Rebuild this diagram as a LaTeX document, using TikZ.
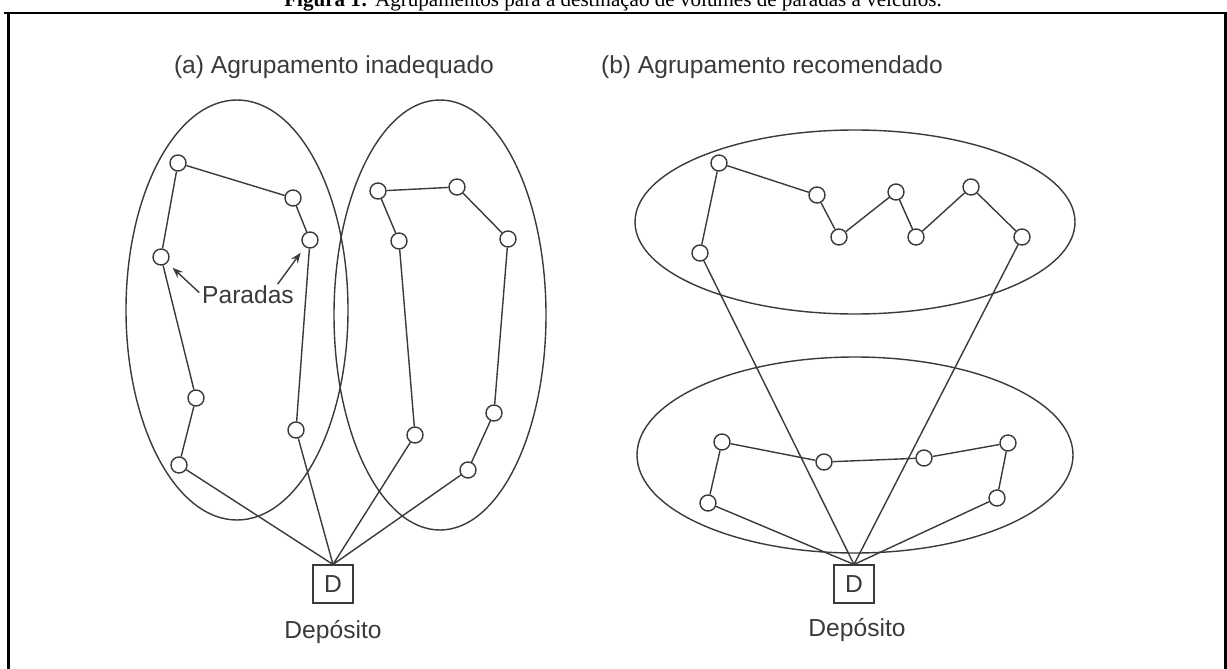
\documentclass[tikz,border=0pt]{standalone}
\usepackage{fontspec}
\setmainfont{Liberation Serif}
\newfontfamily\figsans{Liberation Sans}
\usepackage{xcolor}
\usetikzlibrary{arrows.meta, positioning}
\definecolor{ink}{HTML}{3A3A3A}
\tikzset{
  stop/.style={circle, draw=ink, fill=white, line width=0.8pt, inner sep=0pt, minimum size=0.32cm},
  depot/.style={draw=ink, line width=0.9pt, inner sep=0pt, minimum width=0.8cm, minimum height=0.75cm,
                text=ink, font=\figsans\fontsize{14}{16}\selectfont},
  lbl/.style={text=ink, inner sep=0pt, font=\figsans\fontsize{14}{16}\selectfont},
  route/.style={draw=ink, line width=0.8pt},
  zone/.style={draw=ink, line width=0.8pt},
  pointer/.style={draw=ink, line width=0.8pt, -{Stealth[length=6pt, width=4.5pt]}},
  frameline/.style={line width=1.7pt}
}

\begin{document}
\begin{tikzpicture}[x=0.02cm, y=-0.02cm]
  \useasboundingbox (0,0) rectangle (1227,669);
  % ---- caption and frame ----
  \node[anchor=base, inner sep=0pt, font=\fontsize{12}{14}\selectfont] (caption) at (613,7)
    {\textbf{Figura 1:} Agrupamentos para a destinação de volumes de paradas a veículos.};
  \draw[frameline] (4,13) -- (1227,13);
  \draw[frameline] (8.5,13) -- (8.5,669);
  \draw[frameline] (1225.5,13) -- (1225.5,669);
  % ---- Left: bad clustering ----
  \begin{scope}
    \node[lbl] (titleA) at (334,67) {(a) Agrupamento inadequado};
    \draw[zone] (237,310) ellipse [x radius=111, y radius=210];
    \draw[zone] (440,315) ellipse [x radius=106, y radius=215];
    \node[depot] (depA) at (333,584) {D};
    \node[lbl] (depAname) at (333,632) {Depósito};
    % first route
    \node[stop] (a1) at (178,163) {};
    \node[stop] (a2) at (293,198) {};
    \node[stop] (a3) at (310,240) {};
    \node[stop] (a4) at (161,257) {};
    \node[stop] (a5) at (196,398) {};
    \node[stop] (a6) at (179,465) {};
    \node[stop] (a7) at (296,430) {};
    \draw[route] (depA.north) -- (a6) -- (a5) -- (a4) -- (a1) -- (a2) -- (a3) -- (a7) -- (depA.north);
    % second route
    \node[stop] (b1) at (378,191) {};
    \node[stop] (b2) at (457,187) {};
    \node[stop] (b3) at (399,241) {};
    \node[stop] (b4) at (508,239) {};
    \node[stop] (b5) at (415,435) {};
    \node[stop] (b6) at (494,413) {};
    \node[stop] (b7) at (468,470) {};
    \draw[route] (depA.north) -- (b5) -- (b3) -- (b1) -- (b2) -- (b4) -- (b6) -- (b7) -- (depA.north);
    \node[lbl] (paradas) at (248,295) {Paradas};
    \draw[pointer, shorten <=2pt, shorten >=4pt] (paradas.west) -- (a4);
    \draw[pointer, shorten <=1pt, shorten >=4pt] ([xshift=-10pt]paradas.north east) -- (a3);
  \end{scope}
  % ---- Right: recommended clustering ----
  \begin{scope}
    \node[lbl] (titleB) at (772,67) {(b) Agrupamento recomendado};
    \draw[zone] (855,222) ellipse [x radius=220, y radius=92];
    \draw[zone] (855,455) ellipse [x radius=218, y radius=98];
    \node[depot] (depB) at (854,584) {D};
    \node[lbl] (depBname) at (857,630) {Depósito};
    % upper route
    \node[stop] (c1) at (719,163) {};
    \node[stop] (c2) at (817,195) {};
    \node[stop] (c3) at (839,237) {};
    \node[stop] (c4) at (896,192) {};
    \node[stop] (c5) at (916,237) {};
    \node[stop] (c6) at (971,187) {};
    \node[stop] (c7) at (1022,237) {};
    \node[stop] (c8) at (700,253) {};
    \draw[route] (depB.north) -- (c8) -- (c1) -- (c2) -- (c3) -- (c4) -- (c5) -- (c6) -- (c7) -- (depB.north);
    % lower route
    \node[stop] (e1) at (722,442) {};
    \node[stop] (e2) at (824,462) {};
    \node[stop] (e3) at (924,458) {};
    \node[stop] (e4) at (1008,443) {};
    \node[stop] (e5) at (997,498) {};
    \node[stop] (e6) at (708,503) {};
    \draw[route] (depB.north) -- (e6) -- (e1) -- (e2) -- (e3) -- (e4) -- (e5) -- (depB.north);
  \end{scope}
\end{tikzpicture}
\end{document}
